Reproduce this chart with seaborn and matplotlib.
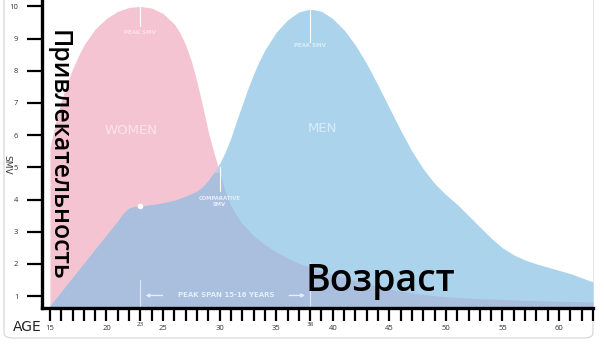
import numpy as np
import pandas as pd
import matplotlib
matplotlib.use("Agg")
import matplotlib.pyplot as plt
import seaborn as sns
from matplotlib.patches import FancyBboxPatch

women_ages = [15, 15.5, 16, 16.5, 17, 17.5, 18, 19, 20, 21, 22, 23, 24, 25, 26, 26.5, 27, 27.5, 28, 28.5,
              29, 29.5, 30, 30.5, 31, 31.5, 32, 33, 34, 35, 36, 37, 38, 39, 40, 41, 42, 43, 44, 45,
              46, 47, 48, 49, 50, 52, 54, 56, 58, 60, 63]
women = [5.6, 6.4, 7.05, 7.6, 8.05, 8.45, 8.8, 9.3, 9.63, 9.85, 9.97, 10.0, 9.95, 9.78, 9.45, 9.18, 8.8, 8.3, 7.65, 6.9,
         6.1, 5.45, 4.85, 4.25, 3.8, 3.5, 3.25, 2.88, 2.6, 2.37, 2.18, 2.02, 1.9, 1.79, 1.68, 1.58, 1.48, 1.39, 1.3, 1.22,
         1.16, 1.1, 1.05, 1.01, 0.98, 0.94, 0.91, 0.88, 0.86, 0.84, 0.82]
men_ages = [15, 16, 17, 18, 19, 20, 21, 21.5, 22, 22.5, 23, 24, 25, 26, 27, 28, 28.5, 29, 29.5, 30,
            30.5, 31, 31.5, 32, 32.5, 33, 33.5, 34, 35, 36, 37, 38, 39, 40, 41, 42, 43, 44, 45, 46,
            47, 48, 49, 50, 51, 52, 53, 54, 55, 56, 57, 58, 59, 60, 61, 62, 63]
men = [0.7, 1.14, 1.58, 2.02, 2.46, 2.9, 3.34, 3.58, 3.74, 3.79, 3.8, 3.84, 3.9, 3.98, 4.1, 4.26, 4.4, 4.6, 4.84, 5.12,
       5.48, 5.92, 6.45, 6.95, 7.45, 7.9, 8.3, 8.65, 9.2, 9.58, 9.83, 9.92, 9.85, 9.62, 9.27, 8.8, 8.22, 7.55, 6.85, 6.15,
       5.5, 4.95, 4.5, 4.15, 3.85, 3.5, 3.15, 2.8, 2.5, 2.28, 2.12, 2.0, 1.9, 1.8, 1.7, 1.57, 1.44]
y_ticks = [1, 2, 3, 4, 5, 6, 7, 8, 9, 10]
x_major = [15, 20, 23, 25, 30, 35, 38, 40, 45, 50, 55, 60]

sns.set_theme(style="white")
plt.rcParams['font.family'] = ['Open Sans', 'DejaVu Sans']

dfw = pd.DataFrame({"age": women_ages, "value": women})
dfm = pd.DataFrame({"age": men_ages, "value": men})
grid = np.array(sorted(set(women_ages) | set(men_ages)))
w_on = np.interp(grid, dfw["age"], dfw["value"])
m_on = np.interp(grid, dfm["age"], dfm["value"])
both = np.minimum(w_on, m_on)

PINK = "#f5c4d2"
BLUE = "#abd4ec"
OVER = "#aabede"

fig = plt.figure(figsize=(6.04, 3.46), dpi=100)
ax = fig.add_axes([42/604, 38/346, (593-42)/604, 308/346])

base = 0.63
sns.lineplot(data=dfw, x="age", y="value", ax=ax, color=PINK, linewidth=0)
sns.lineplot(data=dfm, x="age", y="value", ax=ax, color=BLUE, linewidth=0)
ax.fill_between(dfw["age"], base, dfw["value"], color=PINK, linewidth=0)
ax.fill_between(dfm["age"], base, dfm["value"], color=BLUE, linewidth=0)
ax.fill_between(grid, base, both, color=OVER, linewidth=0)

ax.set_xlim(14.3, 63.0)
ax.set_ylim(base, 10.2)

ax.set_yticks(y_ticks)
ax.set_yticklabels([str(v) for v in y_ticks], fontsize=5.5, color="#333")
ax.set_xticks(list(range(15, 64)))
labels = [str(a) if a in x_major else "" for a in range(15, 64)]
ax.set_xticklabels(labels, fontsize=5.5, color="#333")
for t in ax.get_xticklabels():
    if t.get_text() in ("23", "38"):
        t.set_fontsize(4.5)
        t.set_y(0.01)
ax.tick_params(axis="x", length=9, width=1.6, color="black", direction="out", pad=3, bottom=True)
ax.tick_params(axis="y", length=11, width=1.6, color="black", direction="out", pad=6, left=True)
ax.set_xlabel("")
ax.set_ylabel("")
for side in ["top", "right"]:
    ax.spines[side].set_visible(False)
for side in ["left", "bottom"]:
    ax.spines[side].set_visible(True)
    ax.spines[side].set_color("black")
    ax.spines[side].set_linewidth(2.4)

W = "white"
ax.text(22.2, 6.15, "WOMEN", color="#fbe4ec", fontsize=9.5, ha="center", va="center", family="DejaVu Sans")
ax.text(39.05, 6.2, "MEN", color="#d8ecf8", fontsize=9.5, ha="center", va="center", family="DejaVu Sans")
ax.plot([23, 23], [9.4, 10.0], color=W, lw=0.8)
ax.text(23, 9.2, "PEAK SMV", color="#fbe4ec", fontsize=4, ha="center", va="center", fontweight="bold", family="DejaVu Sans")
ax.plot([38, 38], [8.9, 9.92], color=W, lw=0.8)
ax.text(38, 8.78, "PEAK SMV", color="#d8ecf8", fontsize=4, ha="center", va="center", fontweight="bold", family="DejaVu Sans")
ax.plot([30, 30], [4.25, 5.0], color=W, lw=0.8)
ax.text(30, 3.95, "COMPARATIVE\nSMV", color="#e6eef8", fontsize=3.8, ha="center", va="center", fontweight="bold", family="DejaVu Sans", linespacing=1.2)
ax.plot([23, 23], [base, 1.5], color="#dfe6f3", lw=0.8)
ax.plot([38, 38], [base, 2.05], color="#dfe6f3", lw=0.8)
ax.scatter([23], [3.8], s=9, color="white", zorder=5)
ax.annotate("", xy=(23.2, 1.02), xytext=(25.2, 1.02),
            arrowprops=dict(arrowstyle="-|>", color="#e6eef8", lw=1.0, mutation_scale=5))
ax.annotate("", xy=(37.8, 1.02), xytext=(35.9, 1.02),
            arrowprops=dict(arrowstyle="-|>", color="#e6eef8", lw=1.0, mutation_scale=5))
ax.text(30.6, 1.02, "PEAK SPAN 15-16 YEARS", color="#e6eef8", fontsize=5.0, ha="center", va="center", fontweight="bold", family="DejaVu Sans")

fig.text(58/604, 1 - 155/346, "Привлекательность", rotation=-90, fontsize=17.8, fontweight="semibold",
         ha="center", va="center", color="black")
fig.text(380/604, 1 - 281/346, "Возраст", fontsize=27, fontweight="semibold", ha="center", va="center", color="black")

fig.text(27/604, 1 - 327/346, "AGE", fontsize=10, ha="center", va="center", color="#222", family="DejaVu Sans")
fig.text(7/604, 1 - 165/346, "SMV", fontsize=6.5, rotation=-90, ha="center", va="center", color="#333", family="DejaVu Sans")

frame = FancyBboxPatch((4/604, 8/346), (593-4)/604, 1.2, transform=fig.transFigure,
                       boxstyle="round,pad=0,rounding_size=0.015", fill=False,
                       edgecolor="#d8d8d8", linewidth=0.9, zorder=-1)
fig.patches.append(frame)

fig.savefig("out.png", dpi=100)
